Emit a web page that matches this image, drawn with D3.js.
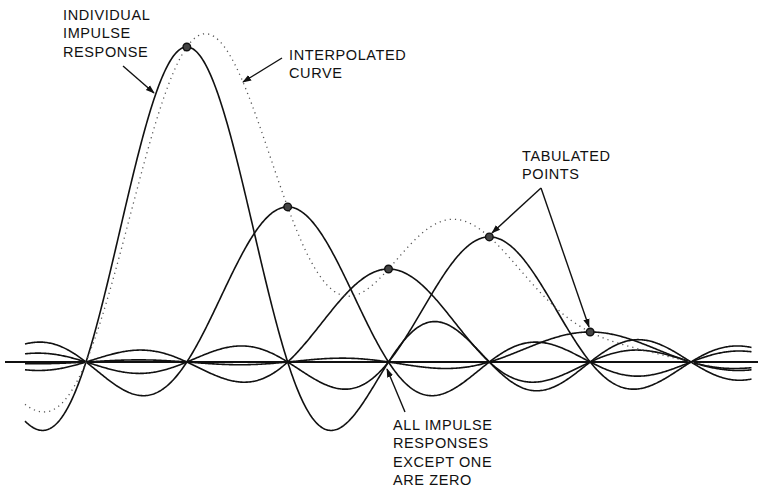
<!DOCTYPE html>
<html><head><meta charset="utf-8">
<script src="https://cdn.jsdelivr.net/npm/d3@7"></script>
<style>body{margin:0;background:#fff}svg{display:block}</style>
</head><body>
<script>
// Tabulated sample indices and values (units: 1 unit = one tick of the vertical scale)
const sampleIndex = [1, 2, 3, 4, 5];
const sampleValue = [10.5, 5.17, 3.1, 4.17, 1.0];
const curveStart = -0.605, curveEnd = 6.6, dottedEnd = 6.2;
const labels = [
  {lines: ["INDIVIDUAL", "IMPULSE", "RESPONSE"], x: 63, y: 20},
  {lines: ["INTERPOLATED", "CURVE"], x: 289, y: 60},
  {lines: ["TABULATED", "POINTS"], x: 522, y: 161},
  {lines: ["ALL IMPULSE", "RESPONSES", "EXCEPT ONE", "ARE ZERO"], x: 393, y: 430}
];

const W = 762, H = 489;
const svg = d3.select("body").append("svg").attr("width", W).attr("height", H);
const x = d3.scaleLinear().domain([0, 6]).range([86, 691]);
const y = d3.scaleLinear().domain([0, 10]).range([362, 62]);

const sinc = t => t === 0 ? 1 : Math.sin(Math.PI * t) / (Math.PI * t);
const N = 700;
const ts = d3.range(N + 1).map(i => curveStart + (curveEnd - curveStart) * i / N);
const line = d3.line().x(d => x(d[0])).y(d => y(d[1])).curve(d3.curveLinear);

// baseline
svg.append("line").attr("x1", 5).attr("x2", 758).attr("y1", y(0)).attr("y2", y(0))
  .attr("stroke", "#111").attr("stroke-width", 1.8);

// individual impulse responses
sampleIndex.forEach((k, i) => {
  const pts = ts.map(t => [t, sampleValue[i] * sinc(t - k)]);
  svg.append("path").attr("d", line(pts)).attr("fill", "none")
    .attr("stroke", "#111").attr("stroke-width", 1.6);
});

// interpolated curve (sum)
const tsD = ts.filter(t => t <= dottedEnd);
const sumPts = tsD.map(t => [t, d3.sum(sampleIndex, (k, i) => sampleValue[i] * sinc(t - k))]);
svg.append("path").attr("d", line(sumPts)).attr("fill", "none")
  .attr("stroke", "#555").attr("stroke-width", 1.3).attr("stroke-dasharray", "1.2,4");

// tabulated points
sampleIndex.forEach((k, i) => {
  svg.append("circle").attr("cx", x(k)).attr("cy", y(sampleValue[i])).attr("r", 3.8)
    .attr("fill", "#444").attr("stroke", "#111").attr("stroke-width", 1.4);
});

// labels
labels.forEach(l => {
  const t = svg.append("text").attr("font-family", "Liberation Sans, Arial, sans-serif")
    .attr("font-size", 14.5).attr("fill", "#111").attr("letter-spacing", 0.6);
  l.lines.forEach((s, j) => {
    t.append("tspan").attr("x", l.x).attr("y", l.y + j * 18.3).text(s);
  });
});

// arrows
svg.append("defs").append("marker").attr("id", "ah").attr("viewBox", "0 0 10 10")
  .attr("refX", 9).attr("refY", 5).attr("markerWidth", 9).attr("markerHeight", 9)
  .attr("markerUnits", "userSpaceOnUse").attr("orient", "auto")
  .append("path").attr("d", "M0,1.5 L10,5 L0,8.5 Z").attr("fill", "#111");
const arrows = [
  [[123, 66], [154, 93]],
  [[282, 58], [243, 82]],
  [[541, 188], [492, 233]],
  [[541, 188], [589, 327]],
  [[405, 412], [387, 369]]
];
arrows.forEach(a => {
  svg.append("line").attr("x1", a[0][0]).attr("y1", a[0][1]).attr("x2", a[1][0]).attr("y2", a[1][1])
    .attr("stroke", "#111").attr("stroke-width", 1.4).attr("marker-end", "url(#ah)");
});
</script>
</body></html>
